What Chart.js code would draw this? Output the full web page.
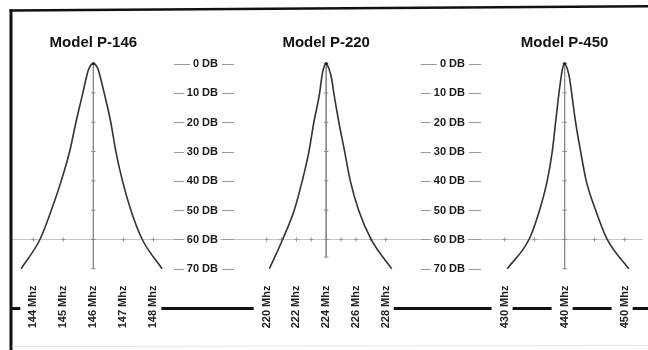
<!DOCTYPE html>
<html><head><meta charset="utf-8">
<script src="https://cdn.jsdelivr.net/npm/chart.js@4/dist/chart.umd.min.js"></script>
<style>html,body{margin:0;padding:0;background:#fff;}#wrap{position:relative;width:648px;height:350px;}canvas{display:block;}</style>
</head><body><div id="wrap"><canvas id="c" width="648" height="350"></canvas></div>
<script>
// ---- data ----
const models = ['Model P-146', 'Model P-220', 'Model P-450'];
const centers = [146, 224, 440];

const p146Freq = [143.59, 144.22, 144.60, 144.93, 145.21, 145.42, 145.65, 145.76, 145.84, 146.00, 146.16, 146.24, 146.36, 146.58, 146.75, 146.97, 147.25, 147.63, 148.29];
const p146Db   = [70, 60, 50, 40, 30, 20, 10, 5, 2, 0, 2, 5, 10, 20, 30, 40, 50, 60, 70];

const p220Freq = [220.18, 221.07, 221.85, 222.39, 222.84, 223.17, 223.56, 223.69, 223.80, 224.00, 224.20, 224.36, 224.51, 224.85, 225.24, 225.62, 226.18, 227.02, 228.40];
const p220Db   = [70, 60, 50, 40, 30, 20, 10, 5, 2, 0, 2, 5, 10, 20, 30, 40, 50, 60, 70];

const p450Freq = [430.44, 434.06, 435.83, 437.10, 437.94, 438.50, 439.06, 439.39, 439.62, 440.00, 440.48, 440.83, 441.17, 441.83, 442.67, 443.60, 445.17, 447.10, 450.70];
const p450Db   = [70, 60, 50, 40, 30, 20, 10, 5, 2, 0, 2, 5, 10, 20, 30, 40, 50, 60, 70];

const p146Labels = [144, 145, 146, 147, 148];
const p220Labels = [220, 222, 224, 226, 228];
const p450Labels = [430, 440, 450];

const p146Marks = [144, 145, 146, 147, 148];
const p220Marks = [220, 221, 222, 223, 224, 225, 226, 227, 228];
const p450Marks = [430, 435, 440, 445, 450];

const dbTicks = [0, 10, 20, 30, 40, 50, 60, 70];
const refDb = 60;
const centerLineEnd = [70, 66, 70];

// ---- build datasets ----
const toPts = (f, d) => f.map((x, i) => ({x: x, y: d[i]}));
const curves = [toPts(p146Freq, p146Db), toPts(p220Freq, p220Db), toPts(p450Freq, p450Db)];
const marks = [p146Marks, p220Marks, p450Marks];
const labels = [p146Labels, p220Labels, p450Labels];
const axisIds = ['x1', 'x2', 'x3'];

const FONT = '"Liberation Sans", Arial, Helvetica, sans-serif';
const datasets = [];
axisIds.forEach((ax, i) => {
  datasets.push({
    data: curves[i], xAxisID: ax, yAxisID: 'y',
    borderColor: '#333', borderWidth: 1.6, cubicInterpolationMode: 'monotone',
    pointRadius: c => (c.raw && c.raw.y === 0 ? 1.6 : 0), pointBackgroundColor: '#222', pointBorderWidth: 0
  });
  datasets.push({
    data: dbTicks.filter(v => v <= centerLineEnd[i]).map(v => ({x: centers[i], y: v}))
            .concat(centerLineEnd[i] % 10 ? [{x: centers[i], y: centerLineEnd[i]}] : []),
    xAxisID: ax, yAxisID: 'y', borderColor: '#8a8a8a', borderWidth: 1,
    pointStyle: 'line', pointRadius: 2.2, pointBorderColor: '#8a8a8a', pointBorderWidth: 1
  });
  datasets.push({
    data: marks[i].map(v => ({x: v, y: refDb})), xAxisID: ax, yAxisID: 'y', showLine: false,
    pointStyle: 'cross', pointRadius: 2.2, pointBorderColor: '#999', pointBorderWidth: 1
  });
});

function xAxis(i, min, max) {
  return {
    type: 'linear', min: min, max: max, position: {y: 75.7},
    grid: {display: false, drawTicks: false}, border: {display: false},
    afterBuildTicks: a => { a.ticks = labels[i].map(v => ({value: v})); },
    ticks: {autoSkip: false, minRotation: 90, maxRotation: 90, padding: 0,
      callback: v => v + ' Mhz', color: '#222', font: {family: FONT, size: 11, weight: 'bold'}}
  };
}

const decor = {
  id: 'decor',
  afterDatasetsDraw(chart) {
    const ctx = chart.ctx, ys = chart.scales.y;
    ctx.save();
    // dB labels
    ctx.font = 'bold 11px ' + FONT;
    ctx.textAlign = 'right'; ctx.textBaseline = 'middle';
    [218, 465].forEach(xr => {
      dbTicks.forEach(v => {
        const y = ys.getPixelForValue(v);
        const txt = v + ' DB';
        const w = ctx.measureText(txt).width;
        ctx.fillStyle = '#fff'; ctx.fillRect(xr - w - 2, y - 6, w + 4, 12);
        ctx.fillStyle = '#1a1a1a'; ctx.fillText(txt, xr, y + 0.5);
        ctx.strokeStyle = '#999'; ctx.lineWidth = 1;
        ctx.beginPath();
        ctx.moveTo(xr - 44, Math.round(y) + 0.5); ctx.lineTo(xr - w - 3, Math.round(y) + 0.5);
        ctx.moveTo(xr + 4, Math.round(y) + 0.5); ctx.lineTo(xr + 16, Math.round(y) + 0.5);
        ctx.stroke();
      });
    });
    // titles
    ctx.font = 'bold 15px ' + FONT;
    ctx.textAlign = 'center'; ctx.fillStyle = '#111';
    axisIds.forEach((ax, i) => {
      ctx.fillText(models[i], chart.scales[ax].getPixelForValue(centers[i]), 43);
    });
    // frame
    ctx.strokeStyle = '#111'; ctx.lineWidth = 2.6;
    ctx.beginPath(); ctx.moveTo(9.5, 10.5); ctx.lineTo(648, 6.2); ctx.stroke();
    ctx.lineWidth = 3;
    ctx.beginPath(); ctx.moveTo(11, 9.5); ctx.lineTo(11, 350); ctx.stroke();
    ctx.strokeStyle = '#e2e2e2'; ctx.lineWidth = 1;
    ctx.beginPath(); ctx.moveTo(12, 346.5); ctx.lineTo(648, 345.5); ctx.stroke();
    // baseline with gaps around tick labels
    let gaps = [];
    axisIds.forEach(ax => {
      const s = chart.scales[ax];
      s.ticks.forEach(t => { const p = s.getPixelForValue(t.value); gaps.push([p - 13, p + 8]); });
    });
    gaps.sort((a, b) => a[0] - b[0]);
    const merged = [];
    gaps.forEach(g => {
      const last = merged[merged.length - 1];
      if (last && g[0] - last[1] < 16) last[1] = Math.max(last[1], g[1]); else merged.push(g.slice());
    });
    ctx.strokeStyle = '#111'; ctx.lineWidth = 3;
    let x0 = 11;
    const yb = 308.5;
    ctx.beginPath();
    merged.forEach(g => { if (g[0] > x0) { ctx.moveTo(x0, yb); ctx.lineTo(g[0], yb); } x0 = g[1]; });
    if (x0 < 648) { ctx.moveTo(x0, yb); ctx.lineTo(648, yb); }
    ctx.stroke();
    ctx.restore();
  }
};

new Chart(document.getElementById('c'), {
  type: 'line',
  data: {datasets: datasets},
  options: {
    responsive: false, animation: false, devicePixelRatio: 1,
    layout: {padding: {left: 10, right: 0, top: 0, bottom: 0}},
    plugins: {legend: {display: false}, tooltip: {enabled: false}},
    scales: {
      y: {
        type: 'linear', reverse: true, min: -20, max: 96, position: 'left',
        afterBuildTicks: a => { a.ticks = [{value: refDb}]; },
        ticks: {display: false},
        grid: {drawTicks: false, color: c => (c.tick && c.tick.value === refDb ? '#c6c6c6' : 'rgba(0,0,0,0)'), lineWidth: 1},
        border: {display: false}
      },
      x1: xAxis(0, 143.223, 164.31),
      x2: xAxis(1, 202.75, 245.29),
      x3: xAxis(2, 347.6, 453.06)
    }
  },
  plugins: [decor]
});
</script>
</body></html>
